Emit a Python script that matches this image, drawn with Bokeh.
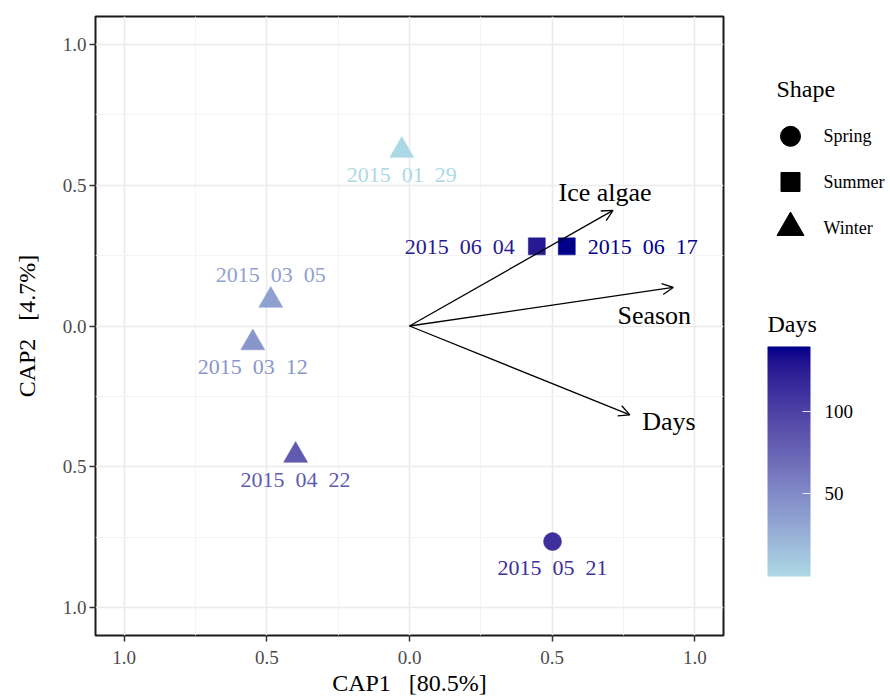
import numpy as np
from bokeh.plotting import figure
from bokeh.models import (ColumnDataSource, Range1d, FixedTicker, Arrow, OpenHead,
                          LinearColorMapper, ColorBar)
from bokeh.layouts import row
from bokeh.embed import file_html
from bokeh.resources import INLINE
from bokeh.core.properties import value

# ---------------- data ----------------
GAP = " \u00a0"
sample_dates = [GAP.join(d) for d in [("2015", "01", "29"), ("2015", "03", "05"),
                                      ("2015", "03", "12"), ("2015", "04", "22"),
                                      ("2015", "05", "21"), ("2015", "06", "04"),
                                      ("2015", "06", "17")]]
cap1 = [-0.027, -0.486, -0.549, -0.399, 0.501, 0.446, 0.551]
cap2 = [0.624, 0.091, -0.060, -0.460, -0.766, 0.283, 0.283]
days = [0, 35, 42, 83, 112, 126, 139]
season = ["Winter", "Winter", "Winter", "Winter", "Spring", "Summer", "Summer"]

vector_names = ["Ice algae", "Season", "Days"]
vector_x = [0.713, 0.924, 0.772]
vector_y = [0.411, 0.137, -0.316]

axis_ticks = [-1.0, -0.5, 0.0, 0.5, 1.0]
axis_tick_labels = ["1.0", "0.5", "0.0", "0.5", "1.0"]
minor_ticks = [-0.75, -0.25, 0.25, 0.75]
season_levels = ["Spring", "Summer", "Winter"]
days_ticks = [50, 100]

x_title = "CAP1 \u00a0\u00a0[80.5%]"
y_title = "CAP2 \u00a0\u00a0[4.7%]"
shape_title = "Shape"
days_title = "Days"

# ---------------- styles ----------------
FONT = "Liberation Serif"
marker_of = {"Spring": "circle", "Summer": "square", "Winter": "triangle"}
size_of = {"Spring": 18, "Summer": 17, "Winter": 24}
legend_size_of = {"Spring": 20, "Summer": 19, "Winter": 27}
label_dx = [0, 0, 0, 0, 0, -22, 21]
label_dy = [24, -26, 24, 24, 26, 0, 0]
label_align = ["center"] * 5 + ["right", "left"]
vec_dx = [-8, -19, 39]
vec_dy = [-18, 28, 7]

# Lab-space gradient lightblue -> darkblue
M = np.array([[0.4124564, 0.3575761, 0.1804375],
              [0.2126729, 0.7151522, 0.0721750],
              [0.0193339, 0.1191920, 0.9503041]])
WP = np.array([0.95047, 1.0, 1.08883])


def hex_to_lab(h):
    rgb = np.array([int(h[i:i + 2], 16) for i in (1, 3, 5)]) / 255.0
    lin = np.where(rgb <= 0.04045, rgb / 12.92, ((rgb + 0.055) / 1.055) ** 2.4)
    xyz = M @ lin / WP
    d = 6 / 29
    f = np.where(xyz > d ** 3, np.cbrt(xyz), xyz / (3 * d * d) + 4 / 29)
    return np.array([116 * f[1] - 16, 500 * (f[0] - f[1]), 200 * (f[1] - f[2])])


def lab_to_hex(lab):
    L, a, b = lab
    fy = (L + 16) / 116
    f = np.array([fy + a / 500, fy, fy - b / 200])
    d = 6 / 29
    xyz = np.where(f > d, f ** 3, 3 * d * d * (f - 4 / 29)) * WP
    lin = np.clip(np.linalg.solve(M, xyz), 0, 1)
    rgb = np.where(lin <= 0.0031308, 12.92 * lin, 1.055 * lin ** (1 / 2.4) - 0.055)
    return "#%02x%02x%02x" % tuple(int(round(c * 255)) for c in np.clip(rgb, 0, 1))


lab_lo, lab_hi = hex_to_lab("#ADD8E6"), hex_to_lab("#00008B")
palette = [lab_to_hex(lab_lo + (lab_hi - lab_lo) * t) for t in np.linspace(0, 1, 256)]
mapper = LinearColorMapper(palette=palette, low=min(days), high=max(days))

H = 698
FT, FB = 16, 636  # frame top / bottom (screen px)

# ---------------- main plot ----------------
p = figure(width=731, height=H, x_range=Range1d(-1.1, 1.1), y_range=Range1d(-1.1, 1.1),
           output_backend="svg", toolbar_location=None,
           min_border_left=95, min_border_right=8, min_border_top=FT,
           min_border_bottom=H - FB)
p.background_fill_color = "white"
p.border_fill_color = "white"
p.outline_line_color = "#1a1a1a"
p.outline_line_width = 2

for ax in (p.xaxis[0], p.yaxis[0]):
    ax.ticker = FixedTicker(ticks=axis_ticks, minor_ticks=minor_ticks)
    ax.major_label_overrides = {t: l for t, l in zip(axis_ticks, axis_tick_labels)}
    ax.axis_line_color = None
    ax.major_tick_line_color = "#333333"
    ax.major_tick_line_width = 1.5
    ax.major_tick_out = 6
    ax.major_tick_in = 0
    ax.minor_tick_line_color = None
    ax.major_label_text_font = FONT
    ax.major_label_text_font_size = "19px"
    ax.major_label_text_color = "#4d4d4d"
    ax.axis_label_text_font = FONT
    ax.axis_label_text_font_size = "24px"
    ax.axis_label_text_font_style = "normal"
    ax.axis_label_text_color = "black"

p.xaxis.axis_label = x_title
p.yaxis.axis_label = y_title
p.xaxis.major_label_standoff = 9
p.xaxis.axis_label_standoff = 3
p.yaxis.major_label_standoff = 3
p.yaxis.axis_label_standoff = 20

for g in (p.xgrid[0], p.ygrid[0]):
    g.grid_line_color = "#ebebeb"
    g.grid_line_width = 1.6
    g.minor_grid_line_color = "#f4f4f4"
    g.minor_grid_line_width = 1.0

src = ColumnDataSource(dict(
    x=cap1, y=cap2, days=days, label=sample_dates,
    marker=[marker_of[s] for s in season],
    size=[size_of[s] for s in season],
    dx=label_dx, dy=label_dy, align=label_align,
))

p.scatter("x", "y", source=src, marker="marker", size="size",
          fill_color={"field": "days", "transform": mapper},
          line_color={"field": "days", "transform": mapper}, line_width=0.5)

p.text("x", "y", text="label", source=src, x_offset="dx", y_offset="dy",
       text_align="align", text_baseline="middle",
       text_font=value(FONT), text_font_size="22px",
       text_color={"field": "days", "transform": mapper})

vsrc = ColumnDataSource(dict(x0=[0.0] * len(vector_x), y0=[0.0] * len(vector_y),
                             x1=vector_x, y1=vector_y, name=vector_names,
                             dx=vec_dx, dy=vec_dy))
p.add_layout(Arrow(source=vsrc, x_start="x0", y_start="y0", x_end="x1", y_end="y1",
                   line_color="black", line_width=1.3,
                   end=OpenHead(size=11, line_width=1.3, line_color="black")))
p.text("x1", "y1", text="name", source=vsrc, x_offset="dx", y_offset="dy",
       text_align="center", text_baseline="middle",
       text_font=value(FONT), text_font_size="26px", text_color="black")

# ---------------- legend panel ----------------
# the row aligns this panel's frame with the main frame (FT..FB), so the
# y range is expressed in screen pixels of that span
lw = 157
q = figure(width=lw, height=H, x_range=Range1d(0, lw), y_range=Range1d(FB, FT),
           output_backend="svg", toolbar_location=None,
           x_axis_location=None, y_axis_location=None,
           min_border=0, min_border_left=0, min_border_right=0,
           min_border_top=FT, min_border_bottom=H - FB)
q.grid.visible = False
q.outline_line_color = None
q.background_fill_color = "white"
q.border_fill_color = "white"

key_x, key_y0, key_step = 59, 136, 45.75
lsrc = ColumnDataSource(dict(
    x=[key_x] * len(season_levels),
    y=[key_y0 + i * key_step for i in range(len(season_levels))],
    marker=[marker_of[s] for s in season_levels],
    size=[legend_size_of[s] for s in season_levels],
    label=season_levels,
))
q.scatter("x", "y", source=lsrc, marker="marker", size="size",
          fill_color="black", line_color="black")
q.text(x=[45, 36], y=[89, 324], text=[shape_title, days_title], text_align="left",
       text_baseline="middle", text_font=value(FONT), text_font_size="24px",
       text_color="black")
q.text("x", "y", text="label", source=lsrc, x_offset=33, text_align="left",
       text_baseline="middle", text_font=value(FONT), text_font_size="18px",
       text_color="black")

cb = ColorBar(color_mapper=mapper, ticker=FixedTicker(ticks=days_ticks),
              orientation="vertical", width=43, height=230, location=(36, 59),
              padding=0, title=None,
              major_label_text_font=FONT, major_label_text_font_size="19px",
              major_label_text_color="black", label_standoff=14,
              major_tick_line_color="#e6e6ff", major_tick_line_width=1.2,
              major_tick_in=8, major_tick_out=0, minor_tick_line_color=None,
              bar_line_color=None, border_line_color=None,
              background_fill_alpha=0)
q.add_layout(cb, "center")

layout = row(p, q)
open("out.html", "w").write(file_html(layout, INLINE))
